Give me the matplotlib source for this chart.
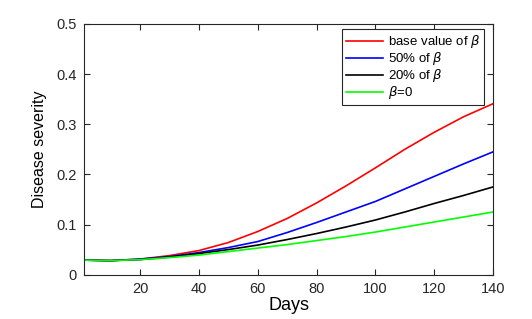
import numpy as np
import matplotlib.pyplot as plt

# valores
dias = [1, 10, 20, 30, 40, 50, 60, 70, 80, 90, 100, 110, 120, 130, 140]
base = [0.029, 0.028, 0.031, 0.038, 0.048, 0.064, 0.086, 0.112, 0.143, 0.177, 0.213, 0.250, 0.284, 0.315, 0.341]
beta50 = [0.029, 0.028, 0.031, 0.036, 0.044, 0.054, 0.066, 0.084, 0.104, 0.125, 0.146, 0.171, 0.196, 0.221, 0.245]
beta20 = [0.029, 0.028, 0.030, 0.035, 0.042, 0.050, 0.059, 0.070, 0.082, 0.095, 0.109, 0.125, 0.142, 0.158, 0.175]
beta0 = [0.029, 0.028, 0.030, 0.034, 0.039, 0.046, 0.053, 0.060, 0.068, 0.076, 0.085, 0.095, 0.105, 0.115, 0.125]

etiquetas = [r'base value of $\beta$', r'50% of $\beta$', r'20% of $\beta$', r'$\beta$=0']
colores = ['#ff0000', '#0000ff', '#000000', '#00ff00']

plt.rcParams['font.family'] = ['Liberation Sans', 'DejaVu Sans']
plt.rcParams['mathtext.fontset'] = 'dejavusans'

fig = plt.figure(figsize=(5.32, 3.19), dpi=100)
ax = fig.add_axes([0.158, 0.139, 0.769, 0.786])

for serie, lab, col in zip([base, beta50, beta20, beta0], etiquetas, colores):
    ax.plot(dias, serie, color=col, lw=1.2, label=lab)

ax.set_xlim(1, 140)
ax.set_ylim(0, 0.5)
ax.set_xticks([20, 40, 60, 80, 100, 120, 140])
ax.set_yticks([0, 0.1, 0.2, 0.3, 0.4, 0.5])
ax.set_yticklabels(['0', '0.1', '0.2', '0.3', '0.4', '0.5'])
ax.tick_params(direction='in', length=4, width=0.8, top=True, right=True,
               labelsize=10.5, colors='#262626', pad=5)
for s in ax.spines.values():
    s.set_color('#262626')
    s.set_linewidth(0.8)

ax.set_xlabel('Days', fontsize=13, labelpad=1)
ax.set_ylabel('Disease severity', fontsize=11.5, labelpad=7)

leg = ax.legend(loc='upper right', fontsize=9.5, handlelength=2.8, borderpad=0.3,
                labelspacing=0.0, handletextpad=0.35, fancybox=False,
                edgecolor='#262626', framealpha=1, bbox_to_anchor=(0.978, 0.978),
                borderaxespad=0)
leg.get_frame().set_linewidth(0.8)

fig.savefig('out.png', dpi=100)
